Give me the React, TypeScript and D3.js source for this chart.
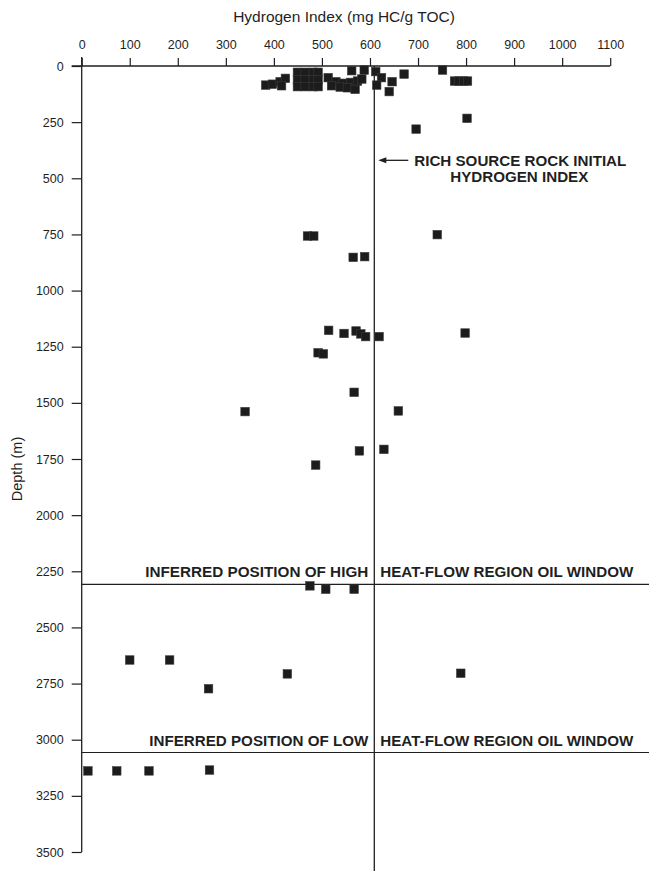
import React from "react";
import * as d3 from "d3";

// Hydrogen index (mg HC/g TOC) of each sample, paired with sampleDepth (m)
const hydrogenIndex = [
  // shallow cluster
  383, 397, 413, 424, 416,
  449, 465, 482, 492, 449, 465, 482, 492, 449, 465, 482, 492,
  513, 529, 544, 560, 574, 520, 538, 553, 569, 583,
  562, 588, 612, 624, 614, 646, 640, 671, 751, 776, 785, 795, 803,
  // deeper samples
  802, 696, 470, 483, 740, 565, 589,
  514, 546, 571, 581, 591, 619, 798, 492, 503,
  567, 340, 659, 578, 629, 487,
  475, 508, 567,
  100, 183, 264, 428, 789,
  13, 73, 140, 266,
];
const sampleDepth = [
  85, 81, 70, 55, 88,
  28, 28, 28, 28, 62, 62, 62, 62, 92, 92, 92, 92,
  52, 70, 77, 73, 67, 88, 94, 97, 104, 58,
  21, 18, 25, 52, 85, 70, 114, 36, 18, 67, 67, 67, 67,
  233, 281, 757, 757, 751, 852, 849,
  1177, 1191, 1180, 1193, 1205, 1205, 1189, 1277, 1282,
  1453, 1539, 1536, 1714, 1707, 1777,
  2315, 2330, 2330,
  2645, 2645, 2773, 2707, 2704,
  3139, 3139, 3139, 3135,
];

const xTicks = [0, 100, 200, 300, 400, 500, 600, 700, 800, 900, 1000, 1100];
const yTicks = [0, 250, 500, 750, 1000, 1250, 1500, 1750, 2000, 2250, 2500, 2750, 3000, 3250, 3500];

const sourceRockHI = 609;
const windowDepths = [2308, 3057];
const windowLabels = [
  ["INFERRED POSITION OF HIGH", "HEAT-FLOW REGION OIL WINDOW"],
  ["INFERRED POSITION OF LOW", "HEAT-FLOW REGION OIL WINDOW"],
];
const sourceRockLabel = ["RICH SOURCE ROCK INITIAL", "HYDROGEN INDEX"];

const W = 649;
const H = 871;
const FONT = "'Liberation Sans', Arial, Helvetica, sans-serif";
const INK = "#1f1f1f";

const App = () => {
  const svgRef = React.useRef<SVGSVGElement>(null);

  React.useEffect(() => {
    drawChart();
  }, []);

  const drawChart = () => {
    if (!svgRef.current) return;
    const svg = d3.select(svgRef.current);
    svg.selectAll("*").remove();

    const x = d3.scaleLinear().domain([0, 1100]).range([81.7, 610.2]);
    const y = d3.scaleLinear().domain([0, 3500]).range([66, 852]);

    // Title
    svg.append("text")
      .attr("x", 344)
      .attr("y", 22)
      .attr("text-anchor", "middle")
      .attr("font-size", 15.5)
      .attr("fill", INK)
      .text("Hydrogen Index (mg HC/g TOC)");

    // Top axis
    const gx = svg.append("g")
      .attr("transform", `translate(0, ${y(0)})`)
      .call(d3.axisTop(x).tickValues(xTicks).tickSize(8).tickPadding(9).tickFormat(d3.format("d")));
    gx.select(".domain").remove();
    gx.selectAll("line").attr("stroke", INK).attr("stroke-width", 1.2);
    gx.selectAll("text").attr("font-family", FONT).attr("font-size", 12.5).attr("fill", INK);
    svg.append("line")
      .attr("x1", x(0) - 10).attr("x2", x(1100))
      .attr("y1", y(0)).attr("y2", y(0))
      .attr("stroke", INK).attr("stroke-width", 1.3);

    // Left axis
    const gy = svg.append("g")
      .attr("transform", `translate(${x(0)}, 0)`)
      .call(d3.axisLeft(y).tickValues(yTicks).tickSize(10).tickPadding(8).tickFormat(d3.format("d")));
    gy.select(".domain").remove();
    gy.selectAll("line").attr("stroke", INK).attr("stroke-width", 1.2);
    gy.selectAll("text").attr("font-family", FONT).attr("font-size", 12.5).attr("fill", INK);
    svg.append("line")
      .attr("x1", x(0)).attr("x2", x(0))
      .attr("y1", y(0) - 9).attr("y2", y(3500))
      .attr("stroke", INK).attr("stroke-width", 1.3);

    svg.append("text")
      .attr("transform", `translate(22, 469) rotate(-90)`)
      .attr("text-anchor", "middle")
      .attr("font-size", 14.5)
      .attr("fill", INK)
      .text("Depth (m)");

    // Rich source rock initial HI line
    const xr = x(sourceRockHI);
    svg.append("line")
      .attr("x1", xr).attr("x2", xr)
      .attr("y1", y(0)).attr("y2", H)
      .attr("stroke", INK).attr("stroke-width", 1.3);

    // Oil window lines + labels
    windowDepths.forEach((d, i) => {
      svg.append("line")
        .attr("x1", x(0)).attr("x2", W)
        .attr("y1", y(d)).attr("y2", y(d))
        .attr("stroke", INK).attr("stroke-width", 1.2);
      const [left, right] = windowLabels[i];
      svg.append("text")
        .attr("x", xr - 6)
        .attr("y", y(d) - 7)
        .attr("text-anchor", "end")
        .attr("font-weight", "bold")
        .attr("font-size", 14)
        .attr("textLength", i === 0 ? 223 : 219)
        .attr("lengthAdjust", "spacingAndGlyphs")
        .attr("fill", INK)
        .text(left);
      svg.append("text")
        .attr("x", xr + 6)
        .attr("y", y(d) - 7)
        .attr("font-weight", "bold")
        .attr("font-size", 14)
        .attr("textLength", 253)
        .attr("lengthAdjust", "spacingAndGlyphs")
        .attr("fill", INK)
        .text(right);
    });

    // Arrow + source rock label
    const ya = y(420);
    svg.append("line")
      .attr("x1", xr + 10).attr("x2", xr + 34)
      .attr("y1", ya).attr("y2", ya)
      .attr("stroke", INK).attr("stroke-width", 1.3);
    svg.append("path")
      .attr("d", `M${xr + 4},${ya} L${xr + 12},${ya - 3} L${xr + 12},${ya + 3} Z`)
      .attr("fill", INK);
    svg.append("text")
      .attr("x", xr + 40)
      .attr("y", ya + 5.5)
      .attr("font-weight", "bold")
      .attr("font-size", 14)
      .attr("textLength", 212)
      .attr("lengthAdjust", "spacingAndGlyphs")
      .attr("fill", INK)
      .text(sourceRockLabel[0]);
    svg.append("text")
      .attr("x", xr + 76)
      .attr("y", ya + 21.5)
      .attr("font-weight", "bold")
      .attr("font-size", 14)
      .attr("textLength", 138)
      .attr("lengthAdjust", "spacingAndGlyphs")
      .attr("fill", INK)
      .text(sourceRockLabel[1]);

    // Samples
    const s = 8.5;
    svg.append("g")
      .selectAll("rect")
      .data(hydrogenIndex.map((hi, i) => ({ hi, d: sampleDepth[i] })))
      .join("rect")
      .attr("x", d => x(d.hi) - s / 2)
      .attr("y", d => y(d.d) - s / 2)
      .attr("width", s)
      .attr("height", s)
      .attr("fill", "#1c1c1c")
      .attr("stroke", "#3a3a3a")
      .attr("stroke-width", 0.6);
  };

  return (
    <svg
      ref={svgRef}
      width={W}
      height={H}
      style={{ position: "absolute", left: 0, top: 0, background: "#fff", fontFamily: FONT }}
    />
  );
};

export default App;
